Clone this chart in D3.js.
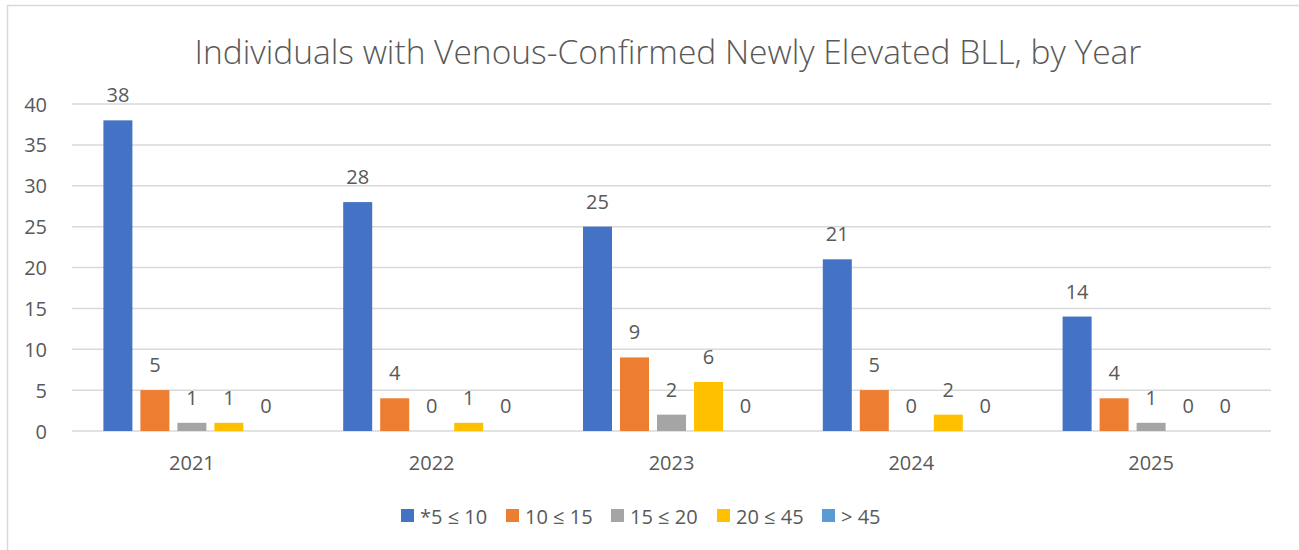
<!DOCTYPE html>
<html>
<head>
<meta charset="utf-8">
<script src="https://cdn.jsdelivr.net/npm/d3@7"></script>
<style>
  body { margin: 0; background: #fff; }
  text { font-family: "Open Sans", Lato, sans-serif; fill: #595959; }
</style>
</head>
<body>
<div id="chart"></div>
<script>
const years = ["2021", "2022", "2023", "2024", "2025"];
const seriesNames = ["*5 \u2264 10", "10 \u2264 15", "15 \u2264 20", "20 \u2264 45", "> 45"];
const s1 = [38, 28, 25, 21, 14];
const s2 = [5, 4, 9, 5, 4];
const s3 = [1, 0, 2, 0, 1];
const s4 = [1, 1, 6, 2, 0];
const s5 = [0, 0, 0, 0, 0];
const yTicks = [0, 5, 10, 15, 20, 25, 30, 35, 40];
const colors = ["#4472c4", "#ed7d31", "#a5a5a5", "#ffc000", "#5b9bd5"];

const W = 1299, H = 550;
const margin = { left: 72, right: 28, top: 104, bottom: 119 };
const seriesData = [s1, s2, s3, s4, s5];

const svg = d3.select("#chart").append("svg")
  .attr("width", W).attr("height", H);

// chart border
svg.append("rect")
  .attr("x", 7.5).attr("y", 5.5)
  .attr("width", W + 20).attr("height", H + 20)
  .attr("fill", "none").attr("stroke", "#d9d9d9").attr("stroke-width", 1.5);

svg.append("text")
  .attr("x", 668).attr("y", 64)
  .attr("text-anchor", "middle")
  .style("font-size", "33.5px").style("font-weight", 300)
  .text("Individuals with Venous-Confirmed Newly Elevated BLL, by Year");

const x0 = d3.scaleBand().domain(years)
  .range([margin.left, W - margin.right]);
const x1 = d3.scaleBand().domain(d3.range(5))
  .range([0, 177]).paddingInner(8 / 37);
const y = d3.scaleLinear().domain([0, 40])
  .range([H - margin.bottom, margin.top]);

// gridlines
svg.append("g")
  .selectAll("line").data(yTicks).join("line")
  .attr("x1", margin.left).attr("x2", W - margin.right)
  .attr("y1", d => y(d)).attr("y2", d => y(d))
  .attr("stroke", "#d9d9d9").attr("stroke-width", 1.5);

// y labels
svg.append("g")
  .selectAll("text").data(yTicks).join("text")
  .attr("x", 47).attr("y", d => y(d))
  .attr("text-anchor", "end").attr("dominant-baseline", "central")
  .style("font-size", "20px")
  .text(d => d);

// bars
const groups = svg.append("g").selectAll("g").data(years).join("g")
  .attr("transform", d => `translate(${x0(d) + x0.bandwidth() / 2 - 88.5},0)`);

groups.each(function (yr, gi) {
  const g = d3.select(this);
  const vals = seriesData.map(s => s[gi]);
  g.selectAll("rect").data(vals).join("rect")
    .attr("x", (d, i) => x1(i))
    .attr("width", x1.bandwidth())
    .attr("y", d => y(d))
    .attr("height", d => y(0) - y(d))
    .attr("fill", (d, i) => colors[i]);
  g.selectAll("text").data(vals).join("text")
    .attr("x", (d, i) => x1(i) + x1.bandwidth() / 2)
    .attr("y", d => y(d) - 18)
    .attr("text-anchor", "middle")
    .style("font-size", "20px")
    .text(d => d);
});

// x labels
svg.append("g")
  .selectAll("text").data(years).join("text")
  .attr("x", d => x0(d) + x0.bandwidth() / 2)
  .attr("y", 470)
  .attr("text-anchor", "middle")
  .style("font-size", "20px")
  .text(d => d);

// legend
const legendX = [401, 506, 611, 717, 822];
const legend = svg.append("g").selectAll("g").data(seriesNames).join("g")
  .attr("transform", (d, i) => `translate(${legendX[i]},509)`);
legend.append("rect")
  .attr("width", 13).attr("height", 13)
  .attr("fill", (d, i) => colors[i]);
legend.append("text")
  .attr("x", 19).attr("y", 7)
  .attr("dominant-baseline", "central")
  .style("font-size", "20px")
  .text(d => d);
</script>
</body>
</html>
